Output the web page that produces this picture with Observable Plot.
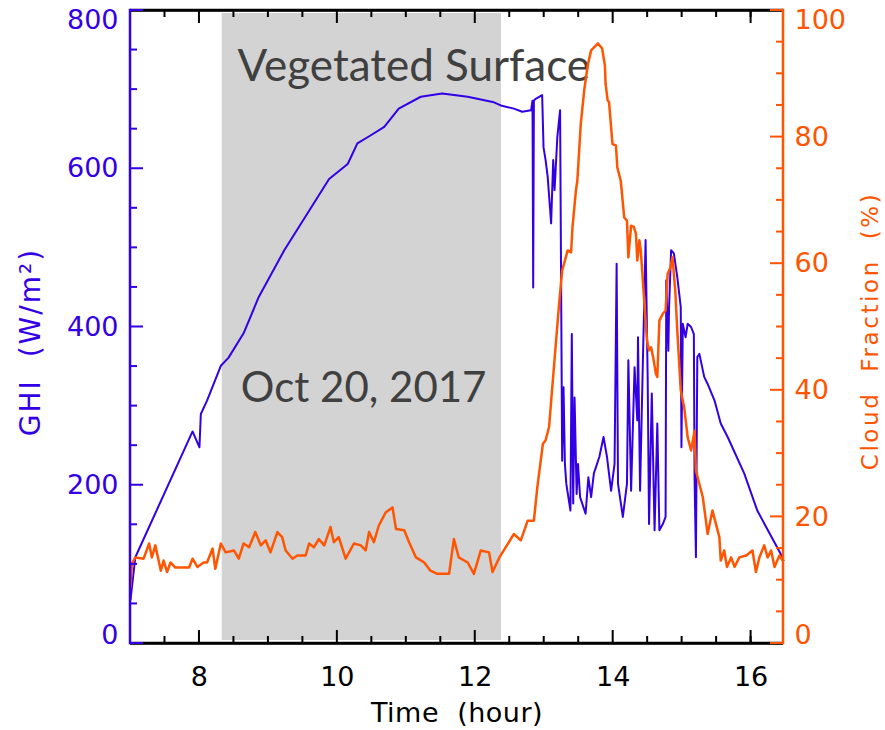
<!DOCTYPE html>
<html><head><meta charset="utf-8">
<script src="https://cdn.jsdelivr.net/npm/d3@7"></script>
<script src="https://cdn.jsdelivr.net/npm/@observablehq/plot@0.6"></script>
<style>body{margin:0;background:#fff}</style>
</head><body><div id="chart"></div>
<script>
// ---- data ----
const ghiTime = [7.00,7.07,7.90,7.95,8.00,8.02,8.11,8.31,8.42,8.64,8.86,9.23,9.49,9.88,10.15,10.29,10.48,10.68,10.89,11.21,11.52,11.89,12.27,12.37,12.56,12.68,12.81,12.83,12.84,12.85,12.87,12.97,12.99,13.02,13.05,13.10,13.13,13.15,13.19,13.23,13.26,13.28,13.30,13.32,13.38,13.40,13.42,13.44,13.47,13.49,13.52,13.60,13.64,13.68,13.72,13.80,13.86,13.91,13.97,14.02,14.05,14.07,14.14,14.20,14.22,14.26,14.31,14.35,14.36,14.39,14.43,14.45,14.47,14.50,14.52,14.56,14.60,14.64,14.67,14.72,14.76,14.77,14.80,14.81,14.84,14.88,14.93,14.98,14.99,15.01,15.05,15.08,15.13,15.17,15.18,15.20,15.22,15.25,15.32,15.37,15.47,15.56,15.66,15.90,16.09,16.43,16.47];
const ghiValue = [55,109,268,258,248,290,307,351,361,392,438,497,533,587,606,632,642,653,676,691,695,691,684,680,676,672,674,686,450,686,688,693,627,611,590,531,611,573,640,674,231,324,227,202,168,391,177,311,189,227,185,164,210,185,215,236,261,236,193,227,480,202,160,202,358,193,349,282,387,193,354,430,510,337,151,316,143,278,143,151,160,459,370,423,497,493,463,425,248,404,387,404,400,391,210,109,362,366,337,328,307,278,261,215,168,113,105];
const cfTime = [7.00,7.02,7.07,7.19,7.27,7.31,7.36,7.44,7.48,7.53,7.58,7.65,7.85,7.90,7.97,8.06,8.11,8.19,8.23,8.31,8.38,8.50,8.57,8.64,8.72,8.81,8.89,8.96,9.03,9.13,9.20,9.25,9.35,9.42,9.54,9.59,9.66,9.73,9.81,9.90,9.95,10.02,10.12,10.24,10.34,10.41,10.46,10.53,10.60,10.70,10.80,10.85,10.97,11.04,11.14,11.26,11.35,11.45,11.62,11.69,11.76,11.89,11.98,12.08,12.20,12.25,12.35,12.56,12.66,12.76,12.85,12.90,12.98,13.02,13.07,13.14,13.22,13.26,13.34,13.39,13.41,13.46,13.48,13.53,13.58,13.63,13.68,13.78,13.84,13.88,13.89,13.92,13.94,13.99,14.04,14.06,14.11,14.16,14.20,14.22,14.26,14.30,14.33,14.35,14.38,14.40,14.45,14.49,14.52,14.55,14.58,14.62,14.64,14.67,14.72,14.76,14.79,14.83,14.86,14.90,14.93,14.98,15.03,15.08,15.13,15.18,15.20,15.25,15.30,15.37,15.44,15.49,15.54,15.56,15.61,15.65,15.71,15.76,15.83,15.93,16.02,16.07,16.12,16.19,16.24,16.29,16.34,16.41,16.46];
const cfValue = [8.9,12.6,13.6,13.4,15.8,13.6,15.5,11.5,13.1,11.3,12.8,12.0,12.0,13.4,12.1,12.8,12.8,15.0,11.8,15.8,14.4,14.7,13.4,15.8,15.2,17.6,15.5,16.3,14.4,17.6,16.8,14.7,13.4,13.9,13.9,15.8,15.2,16.5,15.5,18.4,16.0,16.8,13.4,15.8,15.5,14.7,17.6,16.0,18.6,20.7,21.5,18.1,17.9,16.0,13.6,12.8,11.5,11.0,11.0,16.5,13.6,12.8,11.0,14.7,14.4,11.3,13.6,17.3,16.3,19.4,19.4,24.7,31.5,32.1,34.2,43.6,54.2,58.9,62.1,61.8,65.8,71.6,73.1,82.1,87.4,91.3,93.7,94.8,94.0,91.3,88.4,85.8,85.5,78.9,78.7,75.2,73.1,67.3,66.8,61.0,66.0,65.8,64.7,60.5,63.7,62.1,54.2,47.9,46.3,46.8,45.2,42.6,42.1,51.0,52.1,52.6,58.4,59.4,61.0,55.8,49.4,40.0,37.3,32.6,30.5,33.6,27.3,25.2,23.1,17.3,21.0,18.9,16.8,13.1,14.7,12.1,13.6,12.1,13.6,13.9,14.7,11.3,13.6,15.5,13.6,14.7,12.1,13.9,13.1];
const timeTicks = [8, 10, 12, 14, 16];
const timeMinor = [7.5, 8.5, 9, 9.5, 10.5, 11, 11.5, 12.5, 13, 13.5, 14.5, 15, 15.5, 16];
const ghiTicks = [0, 200, 400, 600, 800];
const ghiMinor = [50,100,150,250,300,350,450,500,550,650,700,750];
const cfTicks = [0, 20, 40, 60, 80, 100];
const cfMinor = [5,10,15,25,30,35,45,50,55,65,70,75,85,90,95];
const shadeSpan = [8.33, 12.38];
const xDomain = [7, 16.47];
const ghiDomain = [0, 800];
const cfMax = 100;
const annotations = [
  {t: 8.553, v: 729, label: "Vegetated Surface", size: 44},
  {t: 8.60, v: 322, label: "Oct 20, 2017", size: 42}
];
const xTitle = "Time  (hour)";
const yTitle = "GHI  (W/m²)";
const y2Title = "Cloud  Fraction  (%)";

// ---- derived tables ----
const ghi = ghiTime.map((t, i) => ({t, v: ghiValue[i]}));
const cf = cfTime.map((t, i) => ({t, v: cfValue[i]}));
const k = ghiDomain[1] / cfMax; // maps cloud fraction onto the GHI scale

const W = 885, H = 730, mL = 130, mR = 102, mT = 10, mB = 87;
const fw = W - mL - mR, fh = H - mT - mB;
const blue = "#3300e6", orange = "#ff5500";
const tickFont = 27;
// pixel sizes expressed in scale units
const xPer = (xDomain[1] - xDomain[0]) / fw, yPer = (ghiDomain[1] - ghiDomain[0]) / fh;
const xLo = xDomain[0], xHi = xDomain[1], yLo = ghiDomain[0], yHi = ghiDomain[1];
const majPx = 13, minPx = 7, tw = 1; // tick length and half-width (px)

// tick marks drawn as thin filled rects
const xTickRects = (ticks, len, top) => Plot.rect(ticks, {
  x1: d => d - tw * xPer, x2: d => d + tw * xPer,
  y1: top ? yHi - len * yPer : yLo, y2: top ? yHi : yLo + len * yPer, fill: "#000"});
const yTickRects = (ticks, scale, len, right, color) => Plot.rect(ticks, {
  y1: d => d * scale - tw * yPer, y2: d => d * scale + tw * yPer,
  x1: right ? xHi - len * xPer : xLo, x2: right ? xHi : xLo + len * xPer, fill: color});
const frameRect = (o) => Plot.rect([0], o);

const chart = Plot.plot({
  width: W, height: H,
  marginLeft: mL, marginRight: mR, marginTop: mT, marginBottom: mB,
  style: {fontFamily: "DejaVu Sans", background: "white", overflow: "visible"},
  x: {domain: xDomain},
  y: {domain: ghiDomain},
  marks: [
    Plot.rect([shadeSpan], {x1: d => d[0], x2: d => d[1], fill: "#d3d3d3", insetTop: 3, insetBottom: 3}),
    Plot.text(annotations.slice(0, 1), {x: "t", y: "v", text: "label", textAnchor: "start", lineAnchor: "middle", fontSize: annotations[0].size, fontFamily: "Lato", fill: "#404040"}),
    Plot.text(annotations.slice(1), {x: "t", y: "v", text: "label", textAnchor: "start", lineAnchor: "middle", fontSize: annotations[1].size, fontFamily: "Lato", fill: "#404040"}),
    Plot.line(ghi, {x: "t", y: "v", stroke: blue, strokeWidth: 2}),
    Plot.line(cf, {x: "t", y: d => d.v * k, stroke: orange, strokeWidth: 2.5}),
    // frame (bottom/top black, left blue, right orange)
    Plot.ruleY([yLo], {stroke: "#000", strokeWidth: 2.5}),
    Plot.ruleY([yHi], {stroke: "#000", strokeWidth: 2.5}),
    frameRect({x1: xLo, x2: xHi, y1: yLo - 1.25 * yPer, y2: yLo + 1.25 * yPer, fill: "#000"}),
    frameRect({x1: xLo, x2: xHi, y1: yHi - 1.25 * yPer, y2: yHi + 1.25 * yPer, fill: "#000"}),
    frameRect({x1: xLo - 1.25 * xPer, x2: xLo + 1.25 * xPer, y1: yLo - 1.25 * yPer, y2: yHi + 1.25 * yPer, fill: blue}),
    frameRect({x1: xHi - 1.25 * xPer, x2: xHi + 1.25 * xPer, y1: yLo - 1.25 * yPer, y2: yHi + 1.25 * yPer, fill: orange}),
    // inward ticks
    xTickRects(timeTicks, majPx, false),
    xTickRects(timeMinor, minPx, false),
    xTickRects(timeTicks, majPx, true),
    xTickRects(timeMinor, minPx, true),
    yTickRects(ghiTicks, 1, majPx, false, blue),
    yTickRects(ghiMinor, 1, minPx, false, blue),
    yTickRects(cfTicks, k, majPx, true, orange),
    yTickRects(cfMinor, k, minPx, true, orange),
    // tick labels
    Plot.axisX(timeTicks, {anchor: "bottom", tickSize: 0, tickPadding: 23, fontSize: tickFont, label: null, color: "#000"}),
    Plot.axisY(ghiTicks.slice(1, -1), {anchor: "left", tickSize: 0, tickPadding: 12, fontSize: tickFont, label: null, color: blue}),
    Plot.axisY([ghiTicks[ghiTicks.length - 1]], {anchor: "left", tickSize: 0, tickPadding: 12, fontSize: tickFont, label: null, color: blue, dy: 10}),
    Plot.axisY([ghiTicks[0]], {anchor: "left", tickSize: 0, tickPadding: 12, fontSize: tickFont, label: null, color: blue, dy: -8}),
    Plot.axisY(cfTicks.slice(1, -1).map(d => d * k), {anchor: "right", tickSize: 0, tickPadding: 11, fontSize: tickFont, label: null, color: orange, tickFormat: d => d / k}),
    Plot.axisY([cfTicks[cfTicks.length - 1] * k], {anchor: "right", tickSize: 0, tickPadding: 11, fontSize: tickFont, label: null, color: orange, tickFormat: d => d / k, dy: 10}),
    Plot.axisY([cfTicks[0] * k], {anchor: "right", tickSize: 0, tickPadding: 11, fontSize: tickFont, label: null, color: orange, tickFormat: d => d / k, dy: -8}),
    // axis titles
    Plot.text([xTitle], {text: d => d, frameAnchor: "bottom", textAnchor: "middle", dy: 70, lineAnchor: "middle", fontSize: 27, fill: "#000"}),
    Plot.text([yTitle], {text: d => d, frameAnchor: "left", textAnchor: "middle", rotate: -90, dx: -99, dy: 15, lineAnchor: "middle", fontSize: 28, fill: blue}),
    Plot.text([y2Title], {text: d => d, frameAnchor: "right", textAnchor: "middle", rotate: -90, dx: 87, dy: 4, lineAnchor: "middle", fontSize: 23, fill: orange})
  ]
});
// wider letter spacing for the axis titles, as in the reference font
const spacing = {[xTitle]: "0.5px", [yTitle]: "2px", [y2Title]: "2.6px"};
d3.select(chart).selectAll("text").each(function() {
  const s = spacing[this.textContent];
  if (s) d3.select(this).attr("letter-spacing", s);
});
document.getElementById("chart").appendChild(chart);
</script>
</body></html>
